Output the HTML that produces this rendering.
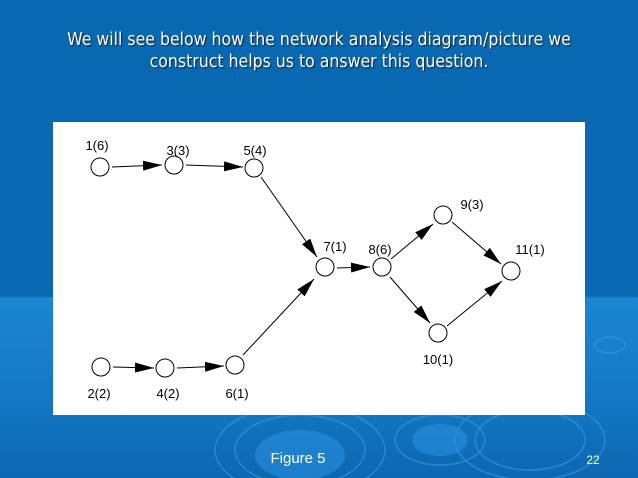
<!DOCTYPE html>
<html><head><style>
body{margin:0;width:638px;height:478px;overflow:hidden;font-family:"Liberation Sans",sans-serif}
.bg{position:absolute;inset:0;background:linear-gradient(#0868b2 0,#0868b2 296px,#1b86d2 298px,#1478c4 400px,#0d66b0 478px)}
.t{position:absolute;left:0;width:638px;top:29px;text-align:center;color:#fff;font-family:"DejaVu Sans Condensed","DejaVu Sans",sans-serif;font-size:17.5px;line-height:22px;text-shadow:1px 1px 1px #123}
</style></head><body>
<div class="bg"></div>
<div class="t">We will see below how the network analysis diagram/picture we<br>construct helps us to answer this question.</div>
<svg width="638" height="478" style="position:absolute;left:0;top:0">
<g fill="none" stroke="#3a9be0" stroke-width="1.5" opacity="0.6">
<ellipse cx="300" cy="450" rx="85" ry="45"/><ellipse cx="300" cy="450" rx="65" ry="35"/>
<ellipse cx="530" cy="440" rx="75" ry="40"/><ellipse cx="530" cy="440" rx="55" ry="30"/>
<ellipse cx="440" cy="440" rx="45" ry="25"/><ellipse cx="610" cy="345" rx="15" ry="8"/>
</g>
<ellipse cx="300" cy="455" rx="45" ry="25" fill="#2a8fdc" opacity="0.6"/>
<ellipse cx="440" cy="440" rx="28" ry="16" fill="#2a8fdc" opacity="0.6"/>
<rect x="53" y="122" width="532" height="293" fill="#fff"/>
<defs><marker id="b" markerWidth="20" markerHeight="10" refX="19" refY="5" orient="auto" markerUnits="userSpaceOnUse"><path d="M0,0L19,5L0,10z" fill="#000"/></marker></defs>
<g stroke="#000" stroke-width="1" marker-end="url(#b)">
<line x1="112" y1="167" x2="162" y2="165"/>
<line x1="186" y1="165" x2="243" y2="167"/>
<line x1="261" y1="177" x2="317" y2="257"/>
<line x1="337" y1="268" x2="370" y2="267"/>
<line x1="391" y1="259" x2="433" y2="224"/>
<line x1="452" y1="222" x2="501" y2="264"/>
<line x1="390" y1="277" x2="430" y2="323"/>
<line x1="447" y1="326" x2="502" y2="281"/>
<line x1="113" y1="367" x2="154" y2="368"/>
<line x1="177" y1="368" x2="224" y2="366"/>
<line x1="243" y1="355" x2="314" y2="279"/>
</g>
<g fill="#fff" stroke="#000" stroke-width="1">
<circle cx="100" cy="167" r="9"/><circle cx="174" cy="165" r="9"/><circle cx="254" cy="168" r="9"/>
<circle cx="325" cy="267" r="9"/><circle cx="382" cy="267" r="9"/><circle cx="443" cy="215" r="9"/>
<circle cx="511" cy="271" r="9"/><circle cx="438" cy="333" r="9"/><circle cx="101" cy="367" r="9"/>
<circle cx="165" cy="368" r="9"/><circle cx="235" cy="365" r="9"/>
</g>
<g font-size="13" fill="#000" text-anchor="middle">
<text x="97" y="150">1(6)</text><text x="178" y="155">3(3)</text><text x="255" y="155">5(4)</text>
<text x="335" y="251">7(1)</text><text x="380" y="254">8(6)</text><text x="472" y="209">9(3)</text>
<text x="530" y="254">11(1)</text><text x="438" y="364">10(1)</text>
<text x="99" y="398">2(2)</text><text x="168" y="398">4(2)</text><text x="237" y="398">6(1)</text>
</g>
<text x="298" y="463" font-size="15" fill="#fff" text-anchor="middle">Figure 5</text>
<text x="593" y="464" font-size="12" fill="#fff" text-anchor="middle">22</text>
</svg>
</body></html>
